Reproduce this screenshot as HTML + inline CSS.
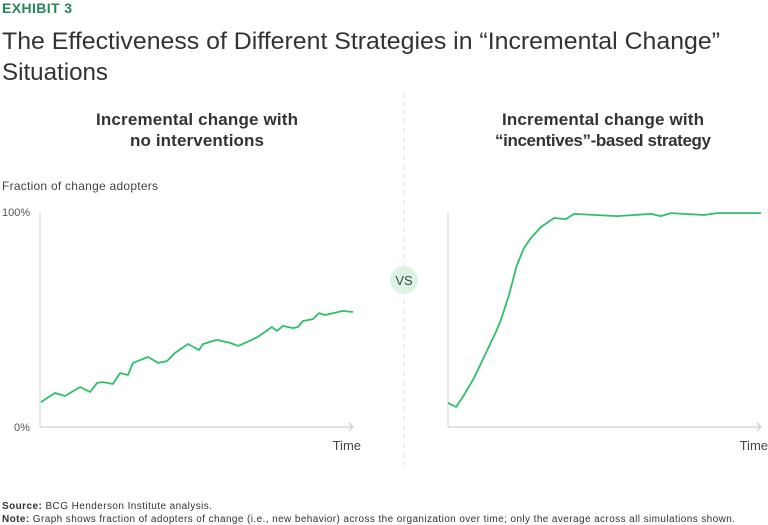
<!DOCTYPE html>
<html><head><meta charset="utf-8">
<style>
html,body{margin:0;padding:0;background:#fff;}
svg{display:block;font-family:"Liberation Sans",sans-serif;}
</style></head>
<body>
<svg id="chart" width="768" height="525" viewBox="0 0 768 525" xmlns="http://www.w3.org/2000/svg">
  <text x="2" y="13" font-size="14" font-weight="bold" fill="#29845a" textLength="70">EXHIBIT 3</text>
  <text x="2" y="49" font-size="24" fill="#333" textLength="718" lengthAdjust="spacingAndGlyphs">The Effectiveness of Different Strategies in “Incremental Change”</text>
  <text x="2" y="80" font-size="24" fill="#333" textLength="106" lengthAdjust="spacingAndGlyphs">Situations</text>

  <text x="197" y="125" font-size="17" font-weight="bold" fill="#333" text-anchor="middle" textLength="202">Incremental change with</text>
  <text x="197" y="146" font-size="17" font-weight="bold" fill="#333" text-anchor="middle" textLength="134">no interventions</text>
  <text x="603" y="125" font-size="17" font-weight="bold" fill="#333" text-anchor="middle" textLength="202">Incremental change with</text>
  <text x="603" y="146" font-size="17" font-weight="bold" fill="#333" text-anchor="middle" textLength="216">“incentives”-based strategy</text>

  <line x1="404" y1="92" x2="404" y2="465" stroke="#e2e2e2" stroke-dasharray="5,4"/>
  <circle cx="404" cy="280" r="14" fill="#dcf3e2"/>
  <text x="404" y="285" font-size="13" fill="#444" text-anchor="middle">VS</text>

  <text x="2" y="190" font-size="12" fill="#444" textLength="156">Fraction of change adopters</text>
  <text x="2" y="216" font-size="11" fill="#555">100%</text>
  <text x="14" y="431" font-size="11" fill="#555">0%</text>

  <g id="left"></g>
  <g id="right"></g>

  <text x="2" y="509" font-size="10" fill="#333" textLength="210"><tspan font-weight="bold">Source:</tspan> BCG Henderson Institute analysis.</text>
  <text x="2" y="522" font-size="10" fill="#333" textLength="733"><tspan font-weight="bold">Note:</tspan> Graph shows fraction of adopters of change (i.e., new behavior) across the organization over time; only the average across all simulations shown.</text>
</svg>
<script>
const leftTimes = [0.3,4.8,8,12.8,16,18.2,20.1,23.3,25.6,28.1,29.7,34.5,37.7,40.6,43.1,47.3,50.8,52.1,56.5,60.7,63.3,66.1,69.6,74.1,75.7,77.6,80.8,82.4,84,87.2,89.1,91.1,96.8,100];
const leftValues = [11.6,15.8,14.4,18.6,16.3,20.5,20.9,20,25.1,24.2,29.8,32.6,29.8,30.7,34.4,38.6,35.8,38.6,40.5,39.1,37.7,39.5,41.9,46.5,44.7,47,46,46.5,49.3,50.2,53,52.1,54,53.5];
const rightTimes = [0,2.6,5.1,8.3,12.1,15.3,16.9,19.5,22,24.3,26.5,29.7,33.9,37.7,40.3,54,64.9,68,71.2,81.8,85.9,100];
const rightValues = [11.2,9.3,14.9,22.8,34.4,44.2,49.8,61.4,75.3,83.3,87.9,93,97.2,96.7,99.1,98.1,99.1,98.1,99.5,98.6,99.5,99.5];
const yTicks = ["0%","100%"];

const NS = "http://www.w3.org/2000/svg";
const yTop = 212, yBot = 427, W = 313;
function yScale(v){ return yBot - v/100*(yBot-yTop); }
function drawPanel(gid, x0, times, values, timeLabelX){
  const g = document.getElementById(gid);
  const ya = document.createElementNS(NS,"line");
  ya.setAttribute("x1",x0); ya.setAttribute("x2",x0); ya.setAttribute("y1",yTop); ya.setAttribute("y2",yBot);
  ya.setAttribute("stroke","#d0d0d0"); ya.setAttribute("stroke-width","1");
  
  
  g.appendChild(ya);
  const xa = document.createElementNS(NS,"path");
  xa.setAttribute("d","M"+x0+" "+yBot+"H"+(x0+W)+"M"+(x0+W-4)+" "+(yBot-4)+"L"+(x0+W)+" "+yBot+"L"+(x0+W-4)+" "+(yBot+4));
  xa.setAttribute("stroke","#d0d0d0"); xa.setAttribute("fill","none"); xa.setAttribute("stroke-width","1.3");
  
  
  g.appendChild(xa);
  const t = document.createElementNS(NS,"text");
  t.setAttribute("x",timeLabelX); t.setAttribute("y",450); t.setAttribute("font-size","13"); t.setAttribute("fill","#444");
  t.setAttribute("text-anchor","end");
  t.textContent = "Time";
  
  
  g.appendChild(t);
  const pts = times.map((tt,i)=> (x0 + tt/100*W).toFixed(1)+","+yScale(values[i]).toFixed(1)).join(" ");
  const pl = document.createElementNS(NS,"polyline");
  pl.setAttribute("points",pts); pl.setAttribute("fill","none");
  pl.setAttribute("stroke","#2fbf68"); pl.setAttribute("stroke-width","1.8"); pl.setAttribute("stroke-linejoin","round");
  
  
  g.appendChild(pl);
}
drawPanel("left", 40, leftTimes, leftValues, 361);
drawPanel("right", 448, rightTimes, rightValues, 768);
</script>
</body></html>
